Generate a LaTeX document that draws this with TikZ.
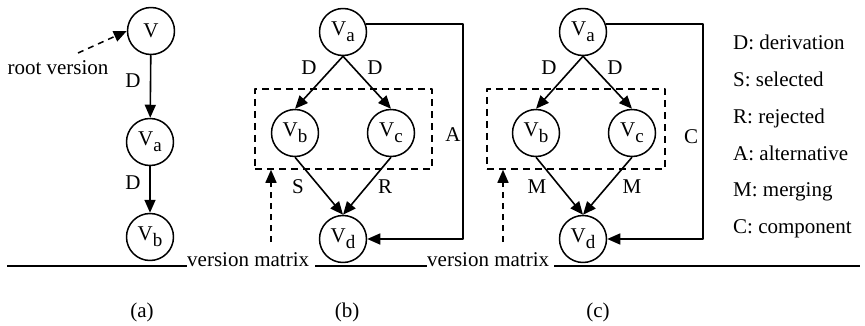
\documentclass[tikz,border=0pt]{standalone}
\usepackage{fontspec}
\setmainfont{Liberation Serif}
\usetikzlibrary{arrows.meta}
\newcommand{\vsub}[1]{V\raisebox{-6pt}{\fontsize{19}{20}\selectfont #1}}

\begin{document}
\begin{tikzpicture}[x=1pt, y=-1pt, line join=round, font=\rmfamily\fontsize{21}{24}\selectfont,
	ver/.style={circle, draw, line width=1.5pt, minimum size=47pt, inner sep=0pt},
	rel/.style={line width=1.6pt, -{Triangle[length=13pt,width=11pt]}},
	hint/.style={line width=1.5pt, dash pattern=on 6pt off 5pt, -{Triangle[length=13pt,width=11pt]}},
	grp/.style={draw, line width=1.5pt, dash pattern=on 7pt off 5pt, inner sep=0pt},
	lbl/.style={inner sep=0pt}]
	\useasboundingbox (0,0) rectangle (865,326);
	% (a) chain of versions from the root
	\node[ver] (pa_v) at (151,31) {V};
	\node[ver] (pa_va) at (150,142) {\vsub{a}};
	\node[ver] (pa_vb) at (150,237) {\vsub{b}};
	\draw[rel] (pa_v) -- (pa_va);
	\draw[rel] (pa_va) -- (pa_vb);
	\node[lbl] (pa_d1) at (133,81) {D};
	\node[lbl] (pa_d2) at (133,183) {D};
	% pointer to the root version
	\node[lbl] (pa_root) at (58,68) {root version};
	\coordinate (pa_rs) at (78,53);
	\draw[hint] (pa_rs) -- (pa_v.west);
	% (b) selected and rejected alternatives
	\node[ver] (pb_va) at (343,32) {\vsub{a}};
	\node[ver] (pb_vb) at (295,133) {\vsub{b}};
	\node[ver] (pb_vc) at (391,133) {\vsub{c}};
	\node[ver] (pb_vd) at (343,239) {\vsub{d}};
	\node[grp, minimum width=177pt, minimum height=80pt] (pb_box) at (343.5,129) {};
	\draw[rel] (pb_va.south) -- (pb_vb.north);
	\draw[rel] (pb_va.south) -- (pb_vc.north);
	\draw[rel] (pb_vb.south) -- (pb_vd.north);
	\draw[rel] (pb_vc.south) -- (pb_vd.north);
	\node[lbl] (pb_d1) at (309,68) {D};
	\node[lbl] (pb_d2) at (375,68) {D};
	\node[lbl] (pb_s) at (298,187) {S};
	\node[lbl] (pb_r) at (385,187) {R};
	\coordinate (pb_turn) at (463,137);
	\draw[rel] (pb_va.20) -| (pb_turn) |- (pb_vd.east);
	\node[lbl] (pb_a) at (453,135) {A};
	\coordinate (pb_hint) at (271,242);
	\draw[hint] (pb_hint) -- (pb_hint |- pb_box.south);
	% (c) merged components
	\node[ver] (pc_va) at (583,32) {\vsub{a}};
	\node[ver] (pc_vb) at (536,133) {\vsub{b}};
	\node[ver] (pc_vc) at (632,133) {\vsub{c}};
	\node[ver] (pc_vd) at (583,239) {\vsub{d}};
	\node[grp, minimum width=178pt, minimum height=80pt] (pc_box) at (576,129) {};
	\draw[rel] (pc_va.south) -- (pc_vb.north);
	\draw[rel] (pc_va.south) -- (pc_vc.north);
	\draw[rel] (pc_vb.south) -- (pc_vd.north);
	\draw[rel] (pc_vc.south) -- (pc_vd.north);
	\node[lbl] (pc_d1) at (549,68) {D};
	\node[lbl] (pc_d2) at (615,68) {D};
	\node[lbl] (pc_m1) at (537,187) {M};
	\node[lbl] (pc_m2) at (632,187) {M};
	\coordinate (pc_turn) at (703,137);
	\draw[rel] (pc_va.20) -| (pc_turn) |- (pc_vd.east);
	\node[lbl] (pc_c) at (691,137) {C};
	\coordinate (pc_hint) at (503,242);
	\draw[hint] (pc_hint) -- (pc_hint |- pc_box.south);
	% base line with the version matrix labels
	\node[lbl, anchor=base west] (vm1) at (187,266) {version matrix};
	\node[lbl, anchor=base west] (vm2) at (427,266) {version matrix};
	\coordinate (bl_start) at (7,266);
	\coordinate (bl_end) at (860,266);
	\draw[line width=1.2pt] (bl_start) -- (vm1.base west);
	\draw[line width=1.2pt] ([xshift=6pt]vm1.base east) -- (vm2.base west);
	\draw[line width=1.2pt] ([xshift=5pt]vm2.base east) -- (bl_end);
	% legend
	\foreach \t [count=\i] in {D: derivation, S: selected, R: rejected,
		A: alternative, M: merging, C: component}
	\node[lbl, anchor=base west] (lg\i) at (733,{13.3+36.7*\i}) {\t};
	% captions
	\foreach \p/\x in {a/142, b/347, c/598}
	\node (cap_\p) at (\x,312) {(\p)};
\end{tikzpicture}
\end{document}
